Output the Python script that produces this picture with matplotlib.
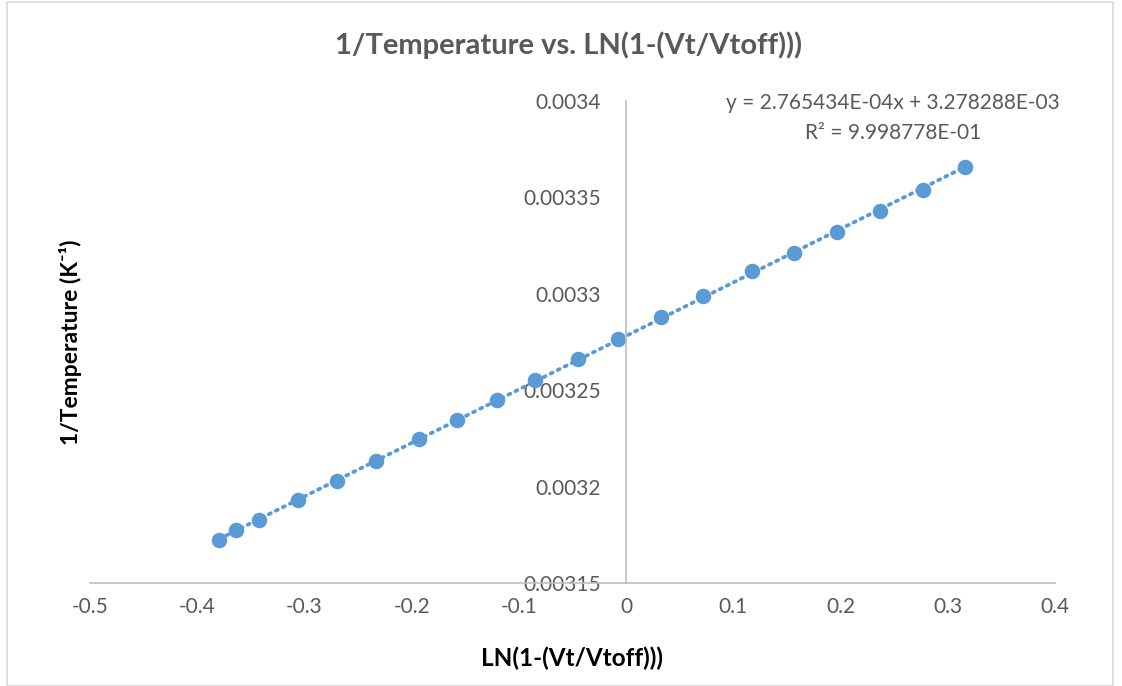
import numpy as np
import matplotlib.pyplot as plt
from matplotlib.patches import Rectangle

# data
ln_ratio = [-0.3793, -0.3635, -0.3420, -0.3057, -0.2693, -0.2330, -0.1930, -0.1575,
            -0.1202, -0.0848, -0.0447, -0.0075, 0.0326, 0.0718, 0.1174, 0.1566,
            0.1966, 0.2367, 0.2768, 0.3159]
inv_temp = [3.1723e-3, 3.1775e-3, 3.1827e-3, 3.1931e-3, 3.2029e-3, 3.2133e-3, 3.2247e-3,
            3.2345e-3, 3.2449e-3, 3.2553e-3, 3.2662e-3, 3.2766e-3, 3.2880e-3, 3.2989e-3,
            3.3118e-3, 3.3212e-3, 3.3321e-3, 3.3430e-3, 3.3538e-3, 3.3658e-3]
eq_text = 'y = 2.765434E-04x + 3.278288E-03'
r2_text = 'R² = 9.998778E-01'
x_ticks = [-0.5, -0.4, -0.3, -0.2, -0.1, 0, 0.1, 0.2, 0.3, 0.4]
y_ticks = [0.00315, 0.0032, 0.00325, 0.0033, 0.00335, 0.0034]
y_tick_labels = ['0.00315', '0.0032', '0.00325', '0.0033', '0.00335', '0.0034']

plt.rcParams['font.family'] = ['Lato', 'DejaVu Sans']
txt_col = '#595959'
blue = '#5B9BD5'
grey = '#BFBFBF'

W, H = 1122, 686
fig = plt.figure(figsize=(W/100, H/100), dpi=100)
ax = fig.add_axes([90/W, (H-583)/H, (1055-90)/W, (583-101)/H])

x = np.array(ln_ratio)
y = np.array(inv_temp)
m, b = np.polyfit(x, y, 1)
xl = np.array([x.min(), x.max()])
# linear trendline (dotted) + points
ax.plot(xl, m*xl + b, color=blue, lw=2.7, ls=(0, (0.6, 1.5)), dash_capstyle='round', zorder=2.2)
ax.scatter(x, y, s=125, color=blue, zorder=2.3, linewidths=0)

ax.set_xlim(-0.5, 0.4)
ax.set_ylim(0.00315, 0.0034)
ax.set_xticks(x_ticks)
ax.set_xticklabels([('%g' % t) for t in x_ticks])
ax.set_yticks(y_ticks)
ax.set_yticklabels(y_tick_labels)

for s in ['top', 'right']:
    ax.spines[s].set_visible(False)
ax.spines['left'].set_position(('data', 0))
for s in ['left', 'bottom']:
    ax.spines[s].set_color(grey)
    ax.spines[s].set_linewidth(1.2)
ax.tick_params(length=0, labelsize=15, labelcolor=txt_col)
ax.tick_params(axis='x', pad=10)
ax.tick_params(axis='y', pad=18)

# trendline label
fig.text(893/W, (H-103)/H, eq_text, ha='center', va='center', fontsize=15, color=txt_col)
fig.text(893/W, (H-133)/H, r2_text, ha='center', va='center', fontsize=15, color=txt_col)

fig.text(569/W, (H-45)/H, '1/Temperature vs. LN(1-(Vt/Vtoff)))', ha='center', va='center',
         fontsize=21, fontweight='bold', color=txt_col)
fig.text(572/W, (H-658)/H, 'LN(1-(Vt/Vtoff)))', ha='center', va='center',
         fontsize=17.5, fontweight='bold', color='black')
fig.text(70/W, (H-342)/H, '1/Temperature (K⁻¹)', ha='center', va='center',
         rotation=90, fontsize=16.5, fontweight='bold', color='black')

fig.patches.append(Rectangle((7/W, 0), (1113-7)/W, (H-2)/H, transform=fig.transFigure,
                             fill=False, edgecolor='#D9D9D9', lw=1.2))

fig.savefig('out.png', dpi=100)
